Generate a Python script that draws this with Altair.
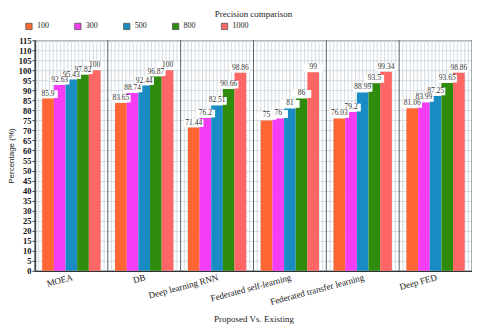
import altair as alt
import pandas as pd

categories = ["MOEA", "DB", "Deep learning RNN", "Federated self-learning",
              "Federated transfer learning", "Deep FED"]
series = ["100", "300", "500", "800", "1000"]
v100 = [85.9, 83.65, 71.44, 75, 76.03, 81.06]
v300 = [92.63, 88.74, 76.2, 76, 79.2, 83.99]
v500 = [95.43, 92.44, 82.51, 81, 88.99, 87.25]
v800 = [97.82, 96.87, 90.66, 86, 93.5, 93.65]
v1000 = [100, 100, 98.86, 99, 99.34, 98.86]
colors = ["#FF6633", "#F53DF5", "#1A8CC4", "#2E8B0C", "#FF6666"]
y_ticks = list(range(0, 120, 5))

rows = []
for s, vals in zip(series, [v100, v300, v500, v800, v1000]):
    for c, v in zip(categories, vals):
        rows.append({"cat": c, "ser": s, "val": v, "lab": f"{v:g}"})
df = pd.DataFrame(rows)

# decorative vertical grid (20 minor lines per category, darker at boundaries)
grid = pd.DataFrame({"g": [i / 20 for i in range(0, 121)]})
grid["major"] = [i % 20 == 0 for i in range(0, 121)]

SERIF = "Liberation Serif"
W, H = 438, 231

xg = alt.X("g:Q", scale=alt.Scale(domain=[0, 6], nice=False, zero=False), axis=None)
minor = alt.Chart(grid).transform_filter("!datum.major").mark_rule(
    color="#c9d3db", strokeWidth=0.8).encode(x=xg)
major = alt.Chart(grid).transform_filter("datum.major").mark_rule(
    color="#56626c", strokeWidth=1).encode(x=xg)
gridlayer = alt.layer(minor, major)

xb = alt.X("cat:N", sort=categories,
           scale=alt.Scale(paddingInner=0.2, paddingOuter=0.1),
           axis=alt.Axis(title="Proposed Vs. Existing", orient="bottom", labelAngle=-15,
                         labelAlign="right", labelBaseline="top",
                         labelFont=SERIF, labelFontSize=9, labelColor="#222",
                         titleFont=SERIF, titleFontSize=9, titleFontWeight="normal",
                         titleColor="#222", ticks=False, domainColor="#333",
                         domainWidth=1.2, labelPadding=2, titlePadding=8,
                         grid=False))
xo = alt.XOffset("ser:N", sort=series, scale=alt.Scale(paddingInner=0, paddingOuter=0))
yq = alt.Y("val:Q", scale=alt.Scale(domain=[0, 115], nice=False),
           axis=alt.Axis(title="Percentage (%)", values=y_ticks,
                         labelFont=SERIF, labelFontSize=8.5, labelFontWeight="bold",
                         labelColor="#111", titleFont="Liberation Sans",
                         titleFontSize=8, titleFontWeight="normal", titleColor="#222",
                         gridColor="#c9d3db", gridWidth=0.8, domainColor="#333",
                         domainWidth=1.5, tickSize=3, tickColor="#333",
                         labelPadding=1, titlePadding=3))

bars = alt.Chart(df).mark_bar().encode(
    x=xb, xOffset=xo, y=yq,
    color=alt.Color("ser:N", sort=series,
                    scale=alt.Scale(domain=series, range=colors),
                    legend=alt.Legend(title=None, orient="none", direction="horizontal",
                                      legendX=-10, legendY=-18, columns=5,
                                      symbolType="square", symbolSize=40,
                                      symbolStrokeColor="#555", symbolStrokeWidth=0.8,
                                      labelFont=SERIF, labelFontSize=8,
                                      labelColor="#222", columnPadding=24,
                                      labelOffset=4)))

box_shape = "M-1,-0.4L1,-0.4L1,0.4L-1,0.4Z"
boxes = alt.Chart(df).mark_point(shape=box_shape, filled=True, color="white",
                                 opacity=1, size=380, yOffset=-4.5).encode(
    x=xb, xOffset=xo, y=yq)
texts = alt.Chart(df).mark_text(font=SERIF, fontSize=7.5, color="#333",
                                baseline="bottom", dy=-1).encode(
    x=xb, xOffset=xo, y=yq, text="lab:N")

main = alt.layer(bars, boxes, texts)

chart = alt.layer(gridlayer, main).resolve_scale(
    x="independent"
).properties(
    width=W, height=H,
    title=alt.TitleParams("Precision comparison", font=SERIF, fontSize=9,
                          fontWeight="normal", color="#222", offset=0,
                          frame="group", baseline="top", dy=-3),
    autosize=alt.AutoSizeParams(type="none"),
    padding={"left": 27, "top": 32, "right": 0, "bottom": 57},
).configure_view(stroke="#56626c", strokeWidth=1)

chart.save("out.html", embed_options={"renderer": "svg", "actions": False})
